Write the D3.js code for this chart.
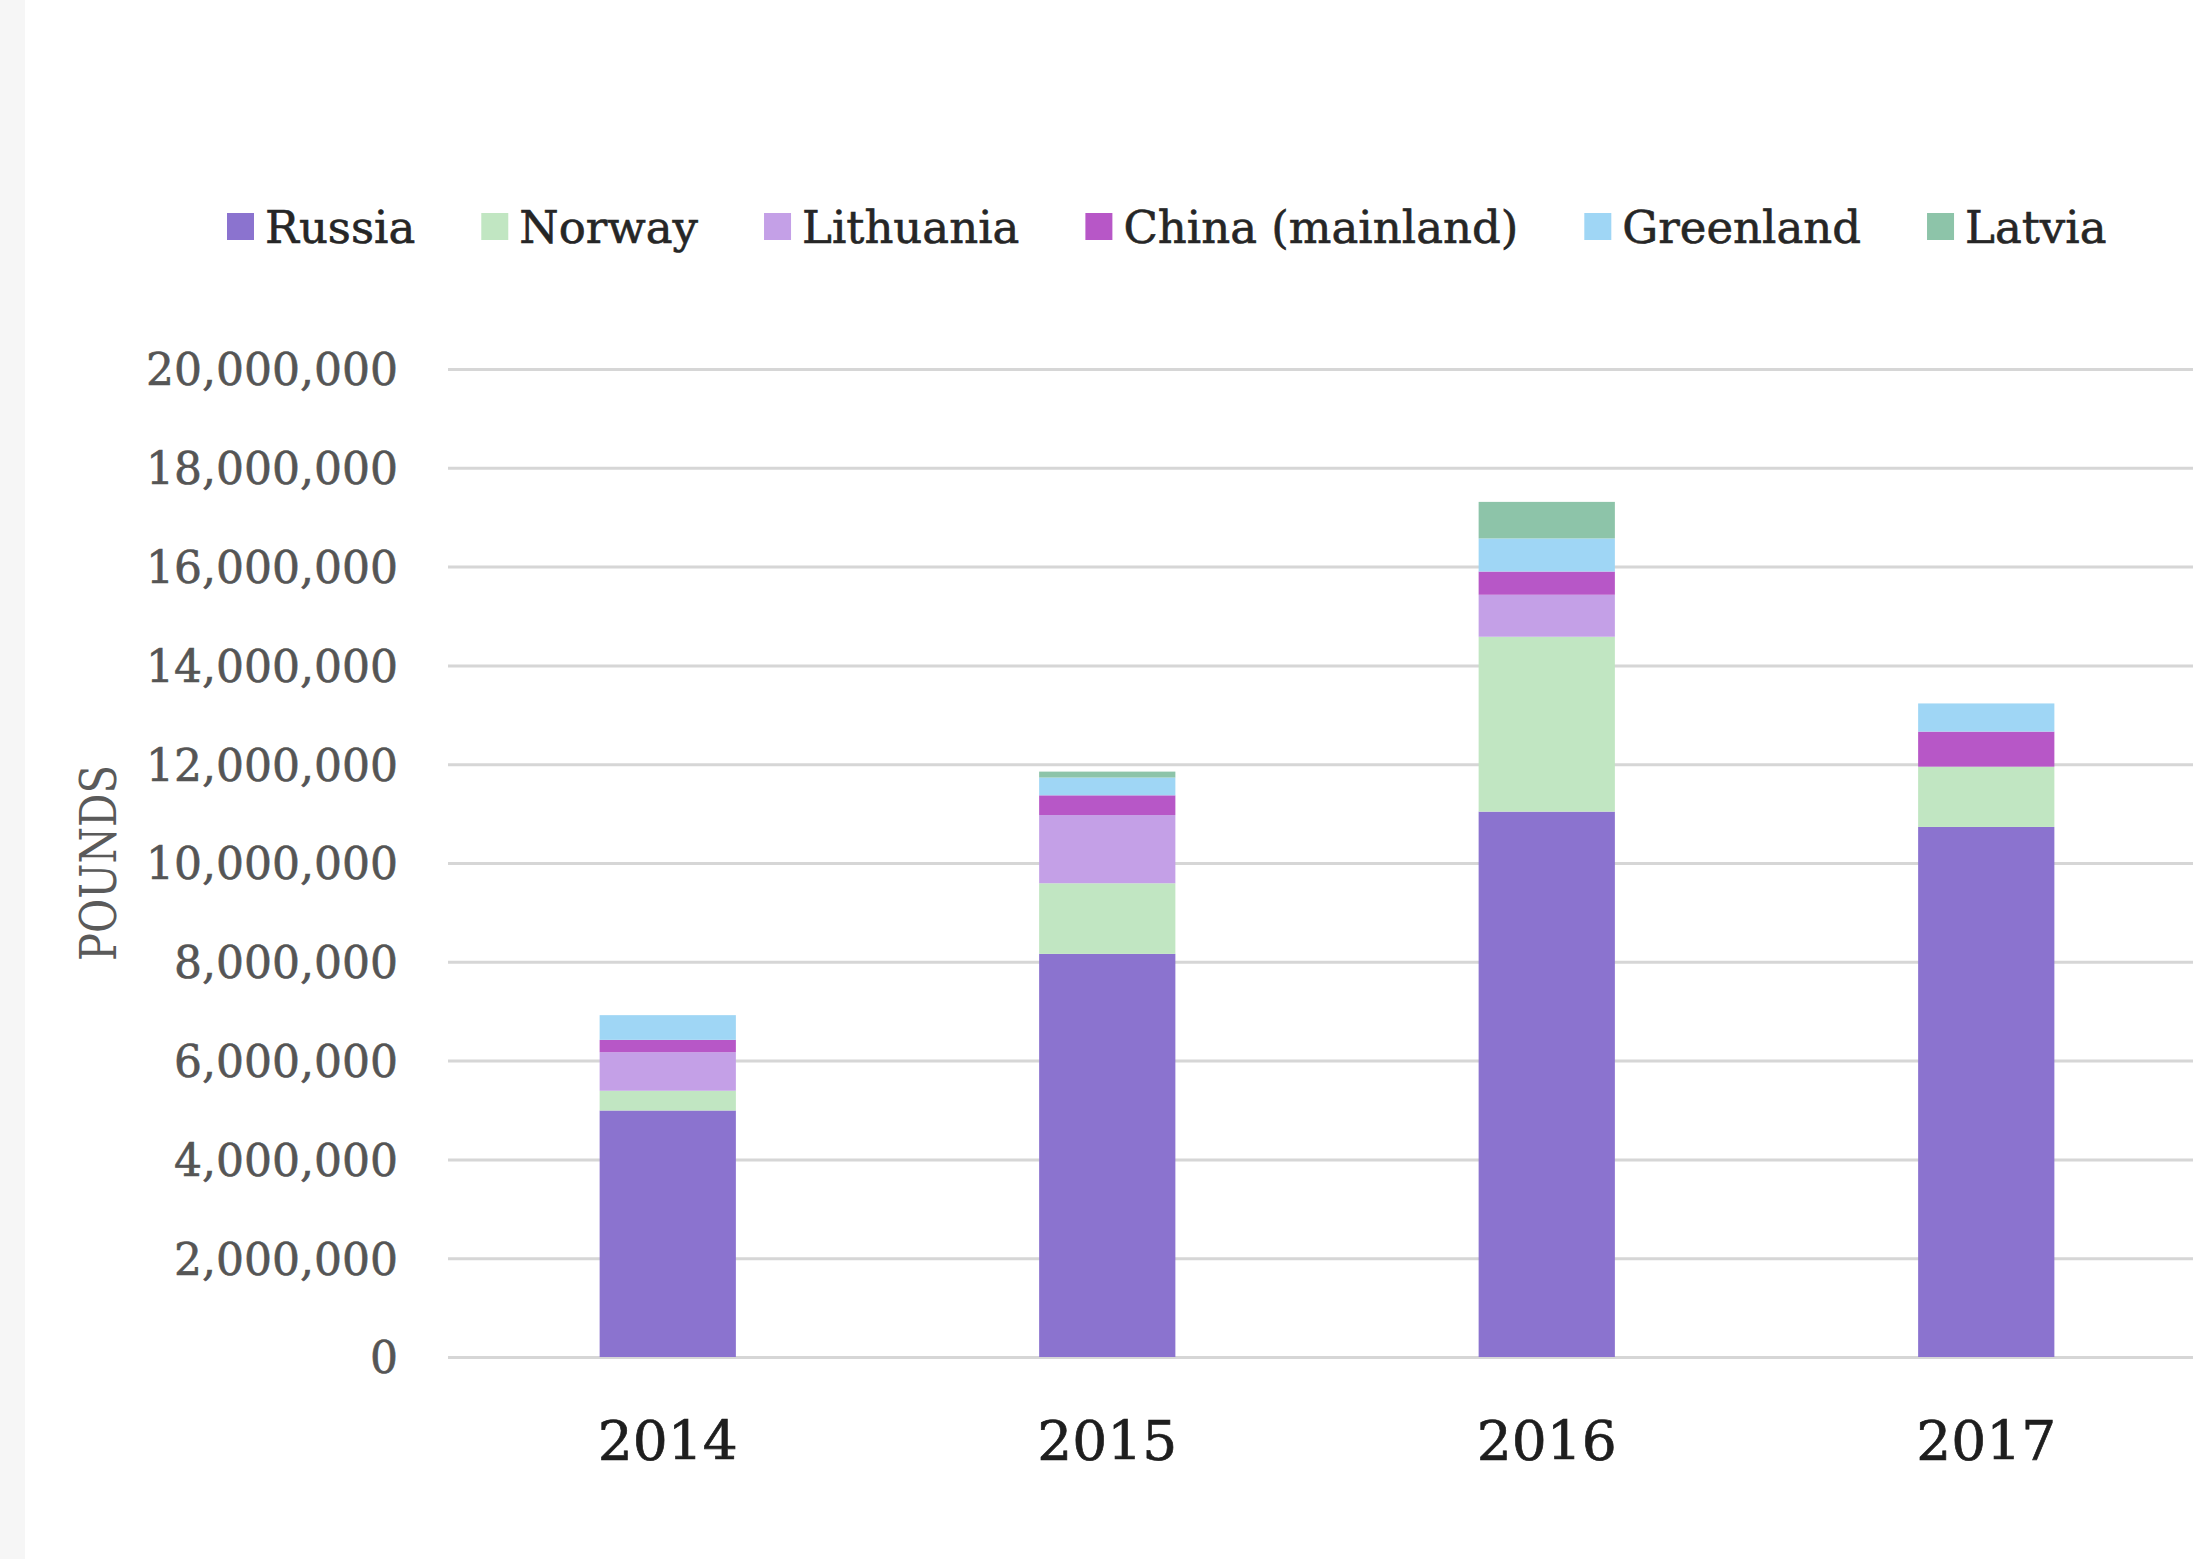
<!DOCTYPE html>
<html>
<head>
  <meta charset="utf-8">
  <script src="https://d3js.org/d3.v7.min.js"></script>
  <style>
  body { margin: 0; background: #fff; }
  .tick text { font-family: "DejaVu Serif", serif; font-size: 44px; fill: #555; stroke: #555; stroke-width: 0.6px; }
  .grid line { stroke: #d6d6d6; stroke-width: 3px; }
  .grid path { display: none; }
  .xlab { font-family: "DejaVu Serif", serif; font-size: 55px; fill: #1e1e1e; stroke: #1e1e1e; stroke-width: 0.7px; }
  .legend text { font-family: "DejaVu Serif", serif; font-size: 45px; fill: #262626; stroke: #262626; stroke-width: 0.6px; }
  </style>
</head>
<body>
<script>
// values (pounds)
var years = ["2014", "2015", "2016", "2017"];
var countries = ["Russia", "Norway", "Lithuania", "China (mainland)", "Greenland", "Latvia"];
var russia    = [4990000, 8160000, 11040000, 10730000];
var norway    = [400000, 1430000, 3540000, 1220000];
var lithuania = [780000, 1380000, 850000, 0];
var china     = [250000, 400000, 470000, 710000];
var greenland = [500000, 360000, 670000, 570000];
var latvia    = [0, 120000, 740000, 0];
var colors = ["#8b73cf", "#c1e6c2", "#c4a0e7", "#b757c7", "#9fd6f5", "#8dc4a9"];
var yTicks = d3.range(0, 20000001, 2000000);

var W = 2193, H = 1559;
var svg = d3.select("body").append("svg")
  .attr("width", W)
  .attr("height", H);

// faint page edge like the scan
svg.append("rect").attr("x", 0).attr("y", 0).attr("width", 25).attr("height", H).attr("fill", "#f6f6f6");

var series = [russia, norway, lithuania, china, greenland, latvia];
var rows = years.map(function(y, i) {
  var r = { year: y };
  countries.forEach(function(c, j) { r[c] = series[j][i]; });
  return r;
});

var x = d3.scaleBand()
  .domain(years)
  .range([448, 2206])
  .paddingInner(0.69)
  .paddingOuter(0.345);

var y = d3.scaleLinear()
  .domain([0, 20000000])
  .range([1357, 369]);

// gridlines + tick labels
svg.append("g")
  .attr("class", "grid")
  .attr("transform", "translate(448,0)")
  .call(d3.axisLeft(y)
    .tickValues(yTicks)
    .tickFormat(d3.format(","))
    .tickSize(-(W - 448))
    .tickPadding(50))
  .selectAll(".tick text")
  .attr("dy", "0.36em");

var stack = d3.stack().keys(countries)(rows);

svg.append("g").selectAll("g")
  .data(stack)
  .enter().append("g")
    .attr("fill", function(d, i) { return colors[i]; })
  .selectAll("rect")
  .data(function(d) { return d; })
  .enter().append("rect")
    .attr("x", function(d) { return x(d.data.year); })
    .attr("width", x.bandwidth())
    .attr("y", function(d) { return y(d[1]); })
    .attr("height", function(d) { return y(d[0]) - y(d[1]); });

// year labels
svg.append("g").selectAll("text")
  .data(years)
  .enter().append("text")
    .attr("class", "xlab")
    .attr("x", function(d) { return x(d) + x.bandwidth() / 2; })
    .attr("y", 1440)
    .attr("dy", "0.36em")
    .attr("text-anchor", "middle")
    .text(function(d) { return d; });

// axis title
svg.append("text")
  .attr("transform", "translate(98,863) rotate(-90)")
  .attr("text-anchor", "middle")
  .attr("dy", "0.36em")
  .attr("textLength", 196)
  .attr("lengthAdjust", "spacingAndGlyphs")
  .style("font-family", "'DejaVu Serif', serif")
  .style("font-size", "50px")
  .style("fill", "#5a5a5a")
  .text("POUNDS");

// legend
var legend = svg.append("g").attr("class", "legend");
var lx = 227;
countries.forEach(function(c, i) {
  legend.append("rect")
    .attr("x", lx).attr("y", 213)
    .attr("width", 27).attr("height", 27)
    .attr("fill", colors[i]);
  var t = legend.append("text")
    .attr("x", lx + 38).attr("y", 227)
    .attr("dy", "0.36em")
    .text(c);
  lx += 38 + t.node().getComputedTextLength() + 66;
});
</script>
</body>
</html>
